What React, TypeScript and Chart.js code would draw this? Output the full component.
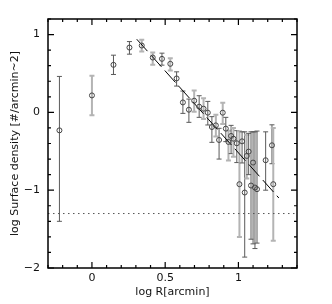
import React, { useEffect, useRef } from "react";
import { Chart, registerables } from "chart.js";

Chart.register(...registerables);

const logR = [-0.222, 0.0, 0.147, 0.256, 0.34, 0.415, 0.478, 0.535, 0.578, 0.621, 0.662, 0.698, 0.732, 0.762, 0.791, 0.819, 0.846, 0.868, 0.893, 0.914, 0.932, 0.95, 0.966, 0.989, 1.007, 1.025, 1.043, 1.057, 1.07, 1.086, 1.1, 1.113, 1.127, 1.186, 1.229, 1.238];
const logDensity = [-0.231, 0.218, 0.611, 0.833, 0.859, 0.705, 0.688, 0.624, 0.436, 0.128, 0.034, 0.15, 0.073, 0.047, -0.004, -0.188, -0.167, -0.355, -0.004, -0.209, -0.38, -0.303, -0.338, -0.397, -0.923, -0.372, -1.03, -0.56, -0.504, -0.94, -0.645, -0.966, -0.987, -0.615, -0.423, -0.923];
const errHigh = [0.462, 0.47, 0.735, 0.91, 0.932, 0.769, 0.761, 0.697, 0.521, 0.274, 0.171, 0.282, 0.214, 0.18, 0.141, -0.055, -0.03, -0.205, 0.124, -0.064, -0.235, -0.167, -0.2, -0.235, -0.244, -0.25, -0.25, -0.29, -0.27, -0.25, -0.25, -0.25, -0.24, -0.25, -0.16, -0.2];
const errLow = [-1.4, -0.038, 0.487, 0.748, 0.782, 0.611, 0.607, 0.538, 0.338, -0.013, -0.128, 0.009, -0.064, -0.085, -0.162, -0.385, -0.31, -0.6, -0.15, -0.376, -0.62, -0.53, -0.57, -0.645, -1.6, -0.65, -1.86, -0.85, -0.8, -1.63, -1.69, -1.75, -1.68, -1.0, -0.66, -1.65];
// which error group each point belongs to (0 = first group, 1 = second group)
const errGroup = [0, 1, 0, 0, 1, 1, 0, 1, 0, 0, 0, 1, 0, 1, 0, 0, 1, 0, 1, 0, 1, 0, 1, 0, 1, 0, 0, 1, 0, 0, 0, 0, 0, 0, 0, 1];

const fitX = [0.306, 1.276];
const fitY = [0.94, -1.1];
const bgX = [-0.3, 1.4];
const bgY = [-1.3, -1.3];

const xMajor = [0, 0.5, 1];
const yMajor = [-2, -1, 0, 1];

const FONT = "'DejaVu Sans', sans-serif";

const framePlugin = {
  id: "frameTicks",
  beforeDatasetsDraw(chart: any) {
    const { ctx, scales } = chart;
    const xs = scales.x;
    const ys = scales.y;
    ctx.save();
    for (let i = 0; i < logR.length; i++) {
      const px = xs.getPixelForValue(logR[i]);
      const pt = ys.getPixelForValue(errHigh[i]);
      const pb = ys.getPixelForValue(errLow[i]);
      const light = errGroup[i] === 1;
      ctx.strokeStyle = light ? "#b4b4b4" : "#5a5a5a";
      ctx.lineWidth = light ? 2 : 1;
      ctx.beginPath();
      ctx.moveTo(px, pt);
      ctx.lineTo(px, pb);
      ctx.moveTo(px - 2.5, pt);
      ctx.lineTo(px + 2.5, pt);
      ctx.moveTo(px - 2.5, pb);
      ctx.lineTo(px + 2.5, pb);
      ctx.stroke();
    }
    ctx.restore();
  },
  afterDraw(chart: any) {
    const { ctx, chartArea, scales } = chart;
    const { left, right, top, bottom } = chartArea;
    const xs = scales.x;
    const ys = scales.y;
    ctx.save();
    ctx.strokeStyle = "#000";
    ctx.lineWidth = 1.5;
    ctx.strokeRect(left, top, right - left, bottom - top);
    ctx.lineWidth = 1.2;
    ctx.beginPath();
    for (let k = -3; k <= 14; k++) {
      const v = k / 10;
      const p = xs.getPixelForValue(v);
      const major = xMajor.some((m) => Math.abs(m - v) < 1e-6);
      const len = major ? 6 : 3;
      ctx.moveTo(p, bottom);
      ctx.lineTo(p, bottom - len);
      ctx.moveTo(p, top);
      ctx.lineTo(p, top + len);
    }
    for (let k = -10; k <= 6; k++) {
      const v = k / 5;
      const p = ys.getPixelForValue(v);
      const major = yMajor.some((m) => Math.abs(m - v) < 1e-6);
      const len = major ? 6 : 3;
      ctx.moveTo(left, p);
      ctx.lineTo(left + len, p);
      ctx.moveTo(right, p);
      ctx.lineTo(right - len, p);
    }
    ctx.stroke();
    ctx.restore();
  },
};

export default function App() {
  const ref = useRef<HTMLCanvasElement | null>(null);
  useEffect(() => {
    document.body.style.margin = "0";
    const canvas = ref.current;
    if (!canvas) return;
    const chart = new Chart(canvas, {
      type: "scatter",
      data: {
        datasets: [
          {
            data: logR.map((x, i) => ({ x, y: logDensity[i] })),
            pointStyle: "circle",
            pointRadius: 2.5,
            pointBorderWidth: 1,
            pointBorderColor: "#444",
            pointBackgroundColor: "rgba(0,0,0,0)",
            showLine: false,
          },
          {
            data: fitX.map((x, i) => ({ x, y: fitY[i] })),
            showLine: true,
            borderColor: "#000",
            borderWidth: 1,
            borderDash: [16, 5],
            pointRadius: 0,
          },
          {
            data: bgX.map((x, i) => ({ x, y: bgY[i] })),
            showLine: true,
            borderColor: "#555",
            borderWidth: 1,
            borderDash: [1.5, 3.5],
            pointRadius: 0,
          },
        ],
      },
      options: {
        responsive: false,
        animation: false,
        devicePixelRatio: 1,
        layout: { padding: { left: 0, top: 19, right: 35, bottom: 0 } },
        plugins: { legend: { display: false }, tooltip: { enabled: false } },
        scales: {
          x: {
            type: "linear",
            min: -0.3,
            max: 1.4,
            grid: { display: false, drawTicks: false },
            border: { display: false },
            ticks: {
              stepSize: 0.1,
              autoSkip: false,
              maxRotation: 0,
              padding: 4,
              color: "#111",
              font: { family: FONT, size: 11 },
              callback: (v: any) => {
                const n = Number(v);
                const m = xMajor.find((q) => Math.abs(q - n) < 1e-6);
                return m === undefined ? "" : String(m);
              },
            },
            title: {
              display: true,
              text: "log R[arcmin]",
              color: "#111",
              font: { family: FONT, size: 11 },
              padding: { top: 0, bottom: 5 },
            },
            afterFit: (s: any) => {
              s.height = 36;
            },
          },
          y: {
            min: -2,
            max: 1.2,
            grid: { display: false, drawTicks: false },
            border: { display: false },
            ticks: {
              stepSize: 0.2,
              autoSkip: false,
              padding: 8,
              color: "#111",
              font: { family: FONT, size: 11 },
              callback: (v: any) => {
                const n = Number(v);
                const m = yMajor.find((q) => Math.abs(q - n) < 1e-6);
                return m === undefined ? "" : m === -0 ? "0" : String(m).replace("-", "\u2212");
              },
            },
            title: {
              display: true,
              text: "log Surface density [#/arcmin~2]",
              color: "#111",
              font: { family: FONT, size: 11 },
              padding: { top: 9, bottom: 0 },
            },
            afterFit: (s: any) => {
              s.width = 48;
            },
          },
        },
      },
      plugins: [framePlugin],
    });
    return () => chart.destroy();
  }, []);
  return <canvas ref={ref} width={332} height={304} style={{ display: "block" }} />;
}
